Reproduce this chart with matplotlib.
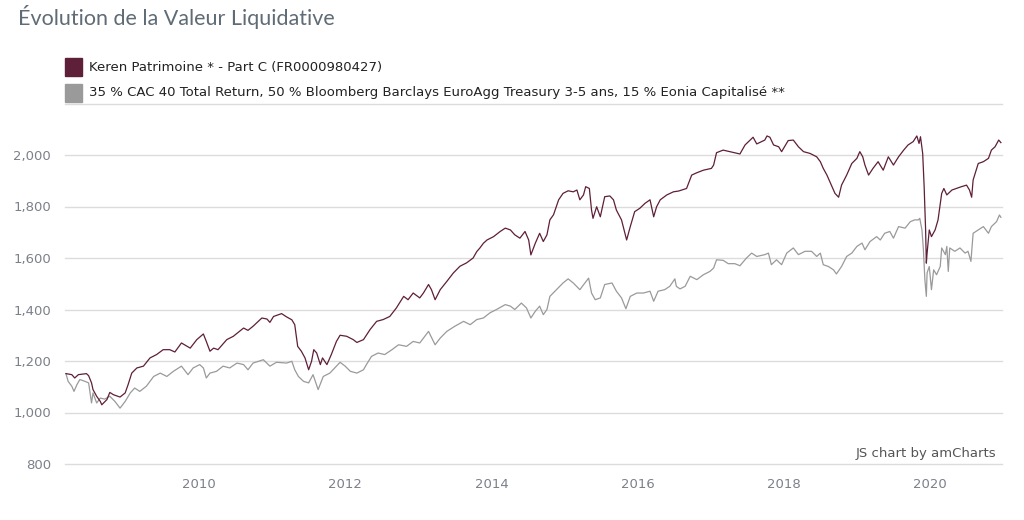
import matplotlib
matplotlib.use("Agg")
import matplotlib.pyplot as plt
from matplotlib.patches import Rectangle
from matplotlib.ticker import FuncFormatter

# values (decimal years)
fund_years = [2008.18, 2008.26, 2008.30, 2008.35, 2008.46, 2008.49, 2008.53, 2008.55, 2008.60, 2008.65,
              2008.67, 2008.74, 2008.78, 2008.83, 2008.92, 2008.99, 2009.03, 2009.08, 2009.15, 2009.24,
              2009.33, 2009.42, 2009.51, 2009.60, 2009.67, 2009.76, 2009.88, 2009.97, 2010.06, 2010.10,
              2010.15, 2010.20, 2010.26, 2010.38, 2010.47, 2010.61, 2010.67, 2010.74, 2010.86, 2010.93,
              2010.97, 2011.02, 2011.13, 2011.20, 2011.27, 2011.31, 2011.35, 2011.40, 2011.45, 2011.50,
              2011.54, 2011.57, 2011.61, 2011.66, 2011.69, 2011.75, 2011.81, 2011.88, 2011.93, 2012.02,
              2012.11, 2012.16, 2012.25, 2012.34, 2012.43, 2012.52, 2012.61, 2012.70, 2012.80, 2012.86,
              2012.93, 2013.02, 2013.07, 2013.14, 2013.18, 2013.23, 2013.30, 2013.39, 2013.48, 2013.57,
              2013.66, 2013.75, 2013.80, 2013.84, 2013.89, 2013.94, 2014.03, 2014.12, 2014.19, 2014.26,
              2014.32, 2014.39, 2014.46, 2014.51, 2014.54, 2014.60, 2014.66, 2014.71, 2014.76, 2014.80,
              2014.85, 2014.92, 2014.98, 2015.05, 2015.12, 2015.17, 2015.21, 2015.26, 2015.29, 2015.34,
              2015.37, 2015.39, 2015.44, 2015.49, 2015.55, 2015.62, 2015.67, 2015.71, 2015.78, 2015.85,
              2015.90, 2015.96, 2016.03, 2016.10, 2016.17, 2016.22, 2016.26, 2016.31, 2016.40, 2016.49,
              2016.56, 2016.67, 2016.74, 2016.81, 2016.90, 2017.01, 2017.04, 2017.08, 2017.17, 2017.26,
              2017.36, 2017.40, 2017.47, 2017.58, 2017.63, 2017.74, 2017.77, 2017.81, 2017.86, 2017.93,
              2017.97, 2018.06, 2018.13, 2018.20, 2018.27, 2018.36, 2018.45, 2018.50, 2018.54, 2018.59,
              2018.65, 2018.70, 2018.75, 2018.79, 2018.86, 2018.93, 2019.00, 2019.04, 2019.08, 2019.11,
              2019.16, 2019.22, 2019.29, 2019.36, 2019.43, 2019.50, 2019.57, 2019.64, 2019.70, 2019.77,
              2019.82, 2019.85, 2019.87, 2019.90, 2019.92, 2019.94, 2019.95, 2019.96, 2019.99, 2020.02,
              2020.07, 2020.11, 2020.16, 2020.19, 2020.23, 2020.30, 2020.36, 2020.43, 2020.50, 2020.54,
              2020.57, 2020.59, 2020.66, 2020.73, 2020.80, 2020.84, 2020.89, 2020.94, 2020.97]
fund_values = [1151, 1147, 1134, 1147, 1151, 1143, 1115, 1089, 1063, 1043,
               1030, 1050, 1078, 1069, 1060, 1076, 1108, 1153, 1173, 1180,
               1212, 1225, 1244, 1244, 1235, 1270, 1250, 1283, 1305, 1276,
               1238, 1250, 1244, 1283, 1296, 1328, 1319, 1335, 1367, 1363,
               1350, 1373, 1384, 1371, 1360, 1341, 1257, 1238, 1212, 1166,
               1199, 1244, 1231, 1186, 1212, 1186, 1225, 1276, 1300, 1296,
               1283, 1272, 1283, 1322, 1354, 1361, 1373, 1406, 1451, 1438,
               1464, 1445, 1464, 1497, 1477, 1438, 1477, 1509, 1542, 1568,
               1581, 1600, 1625, 1638, 1657, 1670, 1683, 1703, 1716, 1709,
               1690, 1677, 1703, 1670, 1612, 1657, 1696, 1664, 1690, 1748,
               1768, 1826, 1851, 1861, 1857, 1864, 1826, 1845, 1877, 1870,
               1786, 1754, 1799, 1760, 1838, 1841, 1826, 1786, 1748, 1670,
               1722, 1780, 1793, 1812, 1826, 1760, 1799, 1826, 1845, 1857,
               1860, 1870, 1922, 1931, 1941, 1948, 1961, 2009, 2019, 2013,
               2006, 2004, 2039, 2069, 2043, 2058, 2074, 2069, 2039, 2032,
               2013, 2056, 2058, 2032, 2013, 2006, 1993, 1974, 1948, 1922,
               1883, 1851, 1836, 1883, 1922, 1967, 1987, 2013, 1993, 1961,
               1922, 1948, 1974, 1941, 1993, 1961, 1993, 2019, 2039, 2052,
               2074, 2045, 2071, 2006, 1877, 1709, 1580, 1618, 1709, 1683,
               1709, 1748, 1851, 1870, 1845, 1864, 1870, 1877, 1883, 1864,
               1836, 1903, 1967, 1974, 1987, 2019, 2032, 2058, 2048]

bench_years = [2008.18, 2008.21, 2008.26, 2008.29, 2008.33, 2008.37, 2008.44, 2008.49, 2008.53, 2008.55,
               2008.60, 2008.65, 2008.71, 2008.78, 2008.85, 2008.92, 2008.99, 2009.06, 2009.12, 2009.19,
               2009.28, 2009.38, 2009.47, 2009.56, 2009.65, 2009.76, 2009.85, 2009.92, 2010.01, 2010.06,
               2010.10, 2010.15, 2010.24, 2010.33, 2010.42, 2010.52, 2010.61, 2010.67, 2010.74, 2010.88,
               2010.97, 2011.06, 2011.20, 2011.27, 2011.31, 2011.36, 2011.43, 2011.50, 2011.56, 2011.63,
               2011.70, 2011.79, 2011.88, 2011.93, 2012.00, 2012.07, 2012.16, 2012.25, 2012.29, 2012.36,
               2012.45, 2012.54, 2012.64, 2012.73, 2012.84, 2012.93, 2013.02, 2013.14, 2013.23, 2013.30,
               2013.39, 2013.50, 2013.62, 2013.71, 2013.80, 2013.89, 2013.98, 2014.07, 2014.19, 2014.26,
               2014.32, 2014.41, 2014.48, 2014.54, 2014.60, 2014.66, 2014.71, 2014.76, 2014.80, 2014.89,
               2014.98, 2015.05, 2015.12, 2015.21, 2015.28, 2015.33, 2015.37, 2015.42, 2015.49, 2015.55,
               2015.65, 2015.71, 2015.78, 2015.84, 2015.90, 2015.99, 2016.08, 2016.17, 2016.22, 2016.28,
               2016.37, 2016.44, 2016.51, 2016.53, 2016.58, 2016.65, 2016.72, 2016.81, 2016.90, 2016.99,
               2017.04, 2017.08, 2017.17, 2017.24, 2017.33, 2017.40, 2017.49, 2017.56, 2017.63, 2017.74,
               2017.79, 2017.83, 2017.90, 2017.97, 2018.04, 2018.13, 2018.20, 2018.29, 2018.38, 2018.45,
               2018.50, 2018.54, 2018.61, 2018.68, 2018.72, 2018.79, 2018.86, 2018.93, 2019.00, 2019.07,
               2019.11, 2019.18, 2019.27, 2019.32, 2019.38, 2019.45, 2019.50, 2019.57, 2019.66, 2019.73,
               2019.79, 2019.84, 2019.86, 2019.89, 2019.91, 2019.93, 2019.95, 2019.96, 2019.99, 2020.02,
               2020.05, 2020.09, 2020.14, 2020.16, 2020.21, 2020.23, 2020.25, 2020.27, 2020.34, 2020.41,
               2020.48, 2020.52, 2020.56, 2020.59, 2020.66, 2020.73, 2020.80, 2020.84, 2020.91, 2020.95,
               2020.97]
bench_values = [1151, 1121, 1102, 1082, 1108, 1128, 1121, 1115, 1037, 1076,
                1037, 1056, 1052, 1063, 1043, 1017, 1043, 1076, 1095, 1082,
                1102, 1140, 1153, 1140, 1160, 1180, 1147, 1173, 1186, 1173,
                1134, 1153, 1160, 1180, 1173, 1192, 1186, 1166, 1192, 1205,
                1180, 1195, 1192, 1199, 1166, 1140, 1121, 1115, 1147, 1089,
                1140, 1153, 1180, 1195, 1180, 1160, 1153, 1166, 1186, 1218,
                1231, 1225, 1244, 1263, 1257, 1276, 1270, 1315, 1263, 1289,
                1315, 1335, 1354, 1341, 1361, 1367, 1387, 1400, 1419, 1413,
                1400, 1425, 1406, 1367, 1393, 1413, 1380, 1400, 1451, 1477,
                1503, 1519, 1503, 1477, 1503, 1522, 1464, 1438, 1445, 1497,
                1503, 1471, 1445, 1403, 1451, 1464, 1464, 1471, 1432, 1471,
                1477, 1490, 1519, 1490, 1480, 1490, 1529, 1516, 1535, 1548,
                1561, 1593, 1591, 1578, 1578, 1570, 1600, 1619, 1606, 1613,
                1619, 1574, 1593, 1574, 1619, 1639, 1613, 1626, 1626, 1606,
                1619, 1574, 1567, 1554, 1538, 1567, 1606, 1619, 1645, 1658,
                1632, 1664, 1683, 1670, 1696, 1703, 1677, 1722, 1716, 1741,
                1748, 1748, 1754, 1709, 1632, 1516, 1451, 1542, 1567, 1477,
                1554, 1535, 1567, 1639, 1613, 1645, 1548, 1639, 1626, 1639,
                1619, 1626, 1587, 1696, 1709, 1722, 1696, 1722, 1741, 1767,
                1758]

fund_label = "Keren Patrimoine * - Part C (FR0000980427)"
bench_label = ("35 % CAC 40 Total Return, 50 % Bloomberg Barclays EuroAgg Treasury 3-5 ans, "
               "15 % Eonia Capitalisé **")
y_ticks = [800, 1000, 1200, 1400, 1600, 1800, 2000]
x_ticks = [2010, 2012, 2014, 2016, 2018, 2020]

fund_color = "#5e1f38"
bench_color = "#9a9a9a"
text_grey = "#7b8089"

W, H = 1024, 520
fig = plt.figure(figsize=(W / 100, H / 100), dpi=100)
ax = fig.add_axes([65 / W, 56 / H, 937 / W, 360.5 / H])

for y in y_ticks + [2200]:
    ax.axhline(y, color="#dcdcdc", lw=1.0, zorder=0, clip_on=False)

ax.plot(bench_years, bench_values, color=bench_color, lw=0.9)
ax.plot(fund_years, fund_values, color=fund_color, lw=0.9)

ax.set_xlim(2008.167, 2020.985)
ax.set_ylim(800, 2200)
ax.set_yticks(y_ticks)
ax.set_xticks(x_ticks)
ax.yaxis.set_major_formatter(FuncFormatter(lambda v, p: f"{int(v):,}"))
ax.tick_params(length=0, labelsize=9.5, labelcolor=text_grey)
ax.tick_params(axis="y", pad=10)
ax.tick_params(axis="x", pad=10)
for s in ax.spines.values():
    s.set_visible(False)

fig.text(18 / W, 1 - 17 / H, "Évolution de la Valeur Liquidative", fontsize=15.5,
         color="#5f6b75", family="Lato", va="center", ha="left")

# legend
for i, (lab, col) in enumerate([(fund_label, fund_color), (bench_label, bench_color)]):
    yc = 67 + i * 25.5
    fig.patches.append(Rectangle((65 / W, 1 - (yc + 9) / H), 17 / W, 18 / H,
                                 transform=fig.transFigure, color=col))
    fig.text(89 / W, 1 - yc / H, lab, fontsize=9.5, color="#222222", va="center", ha="left")

fig.text(996 / W, 1 - 453 / H, "JS chart by amCharts", fontsize=9.5, color="#555555",
         va="center", ha="right")

fig.savefig("out.png", dpi=100)
